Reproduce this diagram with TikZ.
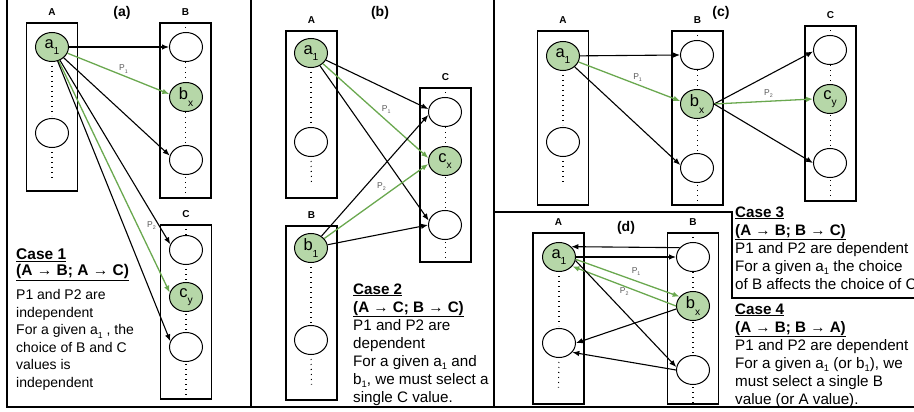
\documentclass[tikz,border=0pt]{standalone}
\usepackage{fontspec}
\setmainfont{Liberation Sans}
\usepackage{graphicx}
\usepackage{xcolor}
\usepackage{tikz}
\usetikzlibrary{shapes.geometric,arrows.meta}
\definecolor{selfill}{HTML}{B6D7A8}
\definecolor{selline}{HTML}{6AA84F}
\definecolor{plabgray}{HTML}{595959}
\newcommand{\lowsub}[2][0.25em]{\raisebox{-#1}{\scalebox{0.62}{#2}}}
\tikzset{
  frame/.style={draw=black, line width=1.7pt},
  colbox/.style={draw=black, line width=1.3pt, minimum width=51pt, inner sep=0pt},
  hdr/.style={font=\fontsize{10}{12}\selectfont\bfseries, yshift=3pt},
  tag/.style={font=\fontsize{14}{16}\selectfont\bfseries},
  val/.style={ellipse, draw=black, line width=1pt, fill=white, minimum width=33pt,
    minimum height=29pt, inner sep=0pt, font=\fontsize{16.5}{16}\selectfont},
  sel/.style={val, fill=selfill},
  dots/.style={draw=black, line width=1.1pt, dash pattern=on 1pt off 4pt},
  arr/.style={draw=black, line width=1.1pt, -{Latex[length=7pt,width=5.5pt]}},
  garr/.style={draw=selline, line width=1.3pt, -{Latex[length=7pt,width=5.5pt]}},
  plab/.style={text=plabgray, font=\fontsize{8.5}{9}\selectfont, inner sep=1pt},
  % base anchor of a multi-line note sits on its last line
  note/.style={anchor=base west, align=left, inner sep=0pt, font=\fontsize{15.2}{18}\selectfont},
}

\begin{document}
\begin{tikzpicture}[x=1pt, y=-1pt]
  \useasboundingbox (0,0) rectangle (914,412);

  % panel frames
  \draw[frame] (7,0) -- (7,407) -- (914,407);
  \draw[frame] (251,0) -- (251,407);
  \draw[frame] (494,0) -- (494,407);
  \draw[frame] (494,212) -- (732,212) -- (732,298) -- (914,298);

  % (a)
  \node[tag] (taga) at (122,13) {(a)};
  \node[colbox, minimum height=168pt, label={[hdr]above:A}] (aboxA) at (52,107) {};
  \node[colbox, minimum height=175pt, label={[hdr]above:B}] (aboxB) at (185.5,110.5) {};
  \node[colbox, minimum height=174pt, label={[hdr]above:C}] (aboxC) at (186,312) {};
  \draw[dots] (aboxB.north) -- (aboxB.south);
  \draw[dots] (aboxC.north) -- (aboxC.south);
  \node[sel] (aa1) at (52,47) {a\lowsub[0.4em]{1}};
  \node[val] (aae) at (52,133) {};
  \node[val] (abt) at (186,47) {};
  \node[sel] (abx) at (186,97) {b\lowsub[0.4em]{x}};
  \node[val] (abb) at (186,160) {};
  \node[val] (act) at (186,250) {};
  \node[sel] (acy) at (186,297) {c\lowsub[0.4em]{y}};
  \node[val] (acb) at (186,347) {};
  \draw[dots, shorten <=4pt, shorten >=2pt] (aa1.south) -- (aae.north);
  \draw[dots, shorten <=4pt] (aae.south) -- ([yshift=13pt]aboxA.south);

  \draw[arr] (aa1) -- (abt.180);
  \draw[garr] (aa1) -- node[plab, pos=0.55, above=1pt] (pa1) {P\lowsub{1}} (abx.170);
  \draw[arr] (aa1) -- (abb.165);
  \draw[arr] (aa1) -- (act.160);
  \draw[garr] (aa1) -- node[plab, pos=0.71, right=8pt] (pa2) {P\lowsub{2}} (acy.165);
  \draw[arr] (aa1) -- (acb.160);

  \node[note, font=\fontsize{14}{17.6}\selectfont] (notea) at (16,387.5)
    {{\fontsize{15.5}{17.6}\selectfont\bfseries\underline{Case 1}}\\[-1.6pt]
     {\fontsize{15.5}{17.6}\selectfont\bfseries\underline{(A → B; A → C)}}\\[6.4pt]
     P1 and P2 are\\
     independent\\
     For a given a\lowsub{1} , the\\
     choice of B and C\\
     values is\\
     independent};

  % (b)
  \node[tag] (tagb) at (380,13) {(b)};
  \node[colbox, minimum height=167pt, label={[hdr]above:A}] (bboxA) at (311.5,114.5) {};
  \node[colbox, minimum height=174pt, label={[hdr]above:B}] (bboxB) at (311.5,313) {};
  \node[colbox, minimum height=174pt, label={[hdr]above:C}] (bboxC) at (445.5,175) {};
  \draw[dots] (bboxC.north) -- (bboxC.south);
  \node[sel] (ba1) at (311,53) {a\lowsub[0.4em]{1}};
  \node[val] (bae) at (311,142) {};
  \node[sel] (bb1) at (311,248) {b\lowsub[0.4em]{1}};
  \node[val] (bbe) at (311,340) {};
  \node[val] (bct) at (445,112) {};
  \node[sel] (bcx) at (445,161) {c\lowsub[0.4em]{x}};
  \node[val] (bcb) at (445,225) {};
  \draw[dots, shorten <=4pt, shorten >=2pt] (ba1.south) -- (bae.north);
  \draw[dots, shorten <=4pt] (bae.south) -- ([yshift=13pt]bboxA.south);
  \draw[dots, shorten <=4pt, shorten >=2pt] (bb1.south) -- (bbe.north);
  \draw[dots, shorten <=4pt] (bbe.south) -- ([yshift=16pt]bboxB.south);

  \draw[arr] (ba1) -- (bct.170);
  \draw[garr] (ba1) -- node[plab, pos=0.6, above=5pt] (pb1) {P\lowsub{1}} (bcx.170);
  \draw[arr] (ba1) -- (bcb.165);
  \draw[arr] (bb1) -- (bct.190);
  \draw[garr] (bb1) -- node[plab, pos=0.55, above=5pt] (pb2) {P\lowsub{2}} (bcx.190);
  \draw[arr] (bb1) -- (bcb.180);

  \node[note] (noteb) at (353,402)
    {\textbf{\underline{Case 2}}\\
     \textbf{\underline{(A → C; B → C)}}\\
     P1 and P2 are\\
     dependent\\
     For a given a\lowsub{1} and\\
     b\lowsub{1}, we must select a\\
     single C value.};

  % (c)
  \node[tag] (tagc) at (721,13) {(c)};
  \node[colbox, minimum height=174pt, label={[hdr]above:A}] (cboxA) at (563,118) {};
  \node[colbox, minimum height=174pt, label={[hdr]above:B}] (cboxB) at (697.5,118) {};
  \node[colbox, minimum height=175pt, label={[hdr]above:C}] (cboxC) at (830.5,113.5) {};
  \draw[dots] (cboxB.north) -- (cboxB.south);
  \draw[dots] (cboxC.north) -- (cboxC.south);
  \node[sel] (ca1) at (563,56) {a\lowsub[0.4em]{1}};
  \node[val] (cae) at (563,142) {};
  \node[val] (cbt) at (697,55) {};
  \node[sel] (cbx) at (697,104) {b\lowsub[0.4em]{x}};
  \node[val] (cbb) at (697,168) {};
  \node[val] (cct) at (830,50) {};
  \node[sel] (ccy) at (830,99) {c\lowsub[0.4em]{y}};
  \node[val] (ccb) at (830,163) {};
  \draw[dots, shorten <=4pt, shorten >=2pt] (ca1.south) -- (cae.north);
  \draw[dots, shorten <=4pt] (cae.south) -- ([yshift=20pt]cboxA.south);

  \draw[arr] (ca1) -- (cbt.180);
  \draw[garr] (ca1) -- node[plab, pos=0.58, above=1pt] (pc1) {P\lowsub{1}} (cbx.170);
  \draw[arr] (ca1) -- (cbb.170);
  \draw[arr] (cbx.east) -- (cct.185);
  \draw[garr] (cbx.east) -- node[plab, pos=0.55, above=2pt] (pc2) {P\lowsub{2}} (ccy.180);
  \draw[arr] (cbx.east) -- (ccb.180);

  \node[note] (notec) at (735,289)
    {\textbf{\underline{Case 3}}\\
     \textbf{\underline{(A → B; B → C)}}\\
     P1 and P2 are dependent\\
     For a given a\lowsub{1} the choice\\
     of B affects the choice of C};

  % (d)
  \node[tag] (tagd) at (626,228) {(d)};
  \node[colbox, minimum height=171pt, label={[hdr]above:A}] (dboxA) at (558.5,318.5) {};
  \node[colbox, minimum height=171pt, label={[hdr]above:B}] (dboxB) at (693,318.5) {};
  \draw[dots] (dboxB.north) -- (dboxB.south);
  \node[sel] (da1) at (559,257) {a\lowsub[0.4em]{1}};
  \node[val] (dae) at (559,343) {};
  \node[val] (dbt) at (693,257) {};
  \node[sel] (dbx) at (693,306) {b\lowsub[0.4em]{x}};
  \node[val] (dbb) at (693,370) {};
  \draw[dots, shorten <=4pt, shorten >=2pt] (da1.south) -- (dae.north);
  \draw[dots, shorten <=4pt] (dae.south) -- ([yshift=17pt]dboxA.south);

  \draw[arr] (dbt.145) -- (da1.40);
  \draw[arr] (da1.0) -- (dbt.180);
  \draw[garr] (da1.-8) -- node[plab, pos=0.58, above=4pt] (pd1) {P\lowsub{1}} (dbx.145);
  \draw[garr] (dbx.180) -- node[plab, pos=0.5, below=0pt] (pd2) {P\lowsub{2}} (da1.-35);
  \draw[arr] (dbx.190) -- (dae.0);
  \draw[arr] (da1.-12) -- (dbb.170);
  \draw[arr] (dbb.180) -- (dae.-35);

  \node[note] (noted) at (735,404)
    {\textbf{\underline{Case 4}}\\
     \textbf{\underline{(A → B; B → A)}}\\
     P1 and P2 are dependent\\
     For a given a\lowsub{1} (or b\lowsub{1}), we\\
     must select a single B\\
     value (or A value).};
\end{tikzpicture}
\end{document}
